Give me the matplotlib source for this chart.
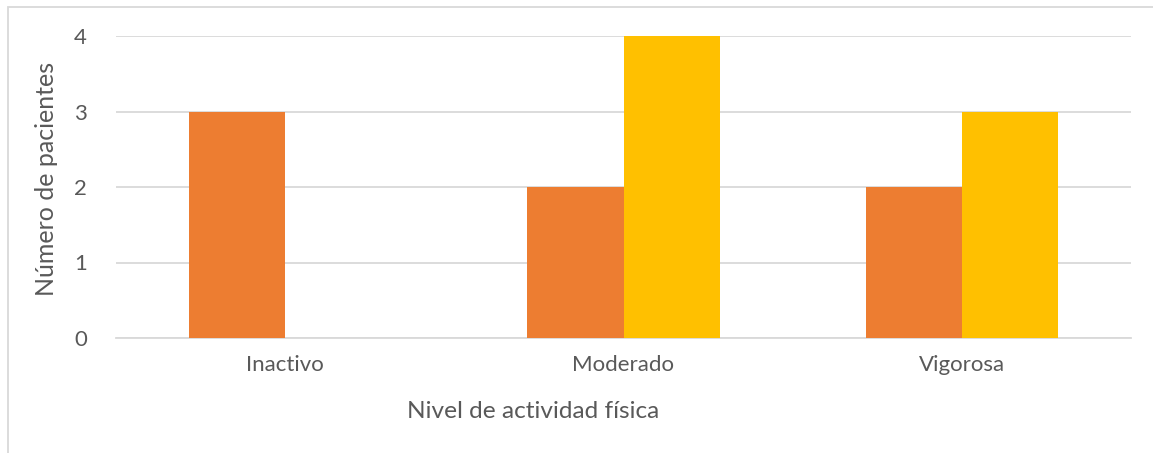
import numpy as np
import matplotlib.pyplot as plt
from matplotlib.patches import Rectangle

# ####################################### DATA ################################################################ #
categories = ["Inactivo", "Moderado", "Vigorosa"]
serie_1 = [3, 2, 2]
serie_2 = [0, 4, 3]
y_ticks = [0, 1, 2, 3, 4]

# ####################################### STYLE ############################################################### #
plt.rcParams['font.family'] = ['Lato', 'DejaVu Sans']
TEXT_COLOR = "#595959"
GRID_COLOR = "#D9D9D9"

fig = plt.figure(figsize=(11.53, 4.53), dpi=100)
ax = fig.add_axes([116 / 1153, 1 - 338 / 453, (1131 - 116) / 1153, (338 - 36) / 453])

x = np.arange(len(categories))
bar_w = 0.284
ax.bar(x - bar_w / 2, serie_1, width=bar_w, color="#ED7D31", zorder=3)
ax.bar(x + bar_w / 2, serie_2, width=bar_w, color="#FFC000", zorder=3)

ax.set_xlim(-0.5, len(categories) - 0.5)
ax.set_ylim(0, 4)
ax.set_yticks(y_ticks)
ax.set_xticks(x)
ax.set_xticklabels(categories)
ax.yaxis.grid(True, color=GRID_COLOR, linewidth=1.3, zorder=0)
ax.tick_params(axis="both", length=0, colors=TEXT_COLOR, labelsize=16)
ax.tick_params(axis="y", pad=21)
ax.tick_params(axis="x", pad=12)
for spine in ["top", "right", "left"]:
    ax.spines[spine].set_visible(False)
ax.spines["bottom"].set_color(GRID_COLOR)
ax.spines["bottom"].set_linewidth(1.3)

fig.text(47 / 1153, 1 - 179 / 453, "Número de pacientes", rotation=90, ha="center", va="center",
         color=TEXT_COLOR, fontsize=18)
fig.text(533 / 1153, 1 - 412 / 453, "Nivel de actividad física", ha="center", va="center",
         color=TEXT_COLOR, fontsize=17.6)

# chart border (only top and left are visible in the crop)
fig.patches.append(Rectangle((7.5 / 1153, -0.1), 1.2, 1 - 7 / 453 + 0.1, transform=fig.transFigure,
                             fill=False, edgecolor=GRID_COLOR, linewidth=1.3))

fig.savefig("out.png", dpi=100)
